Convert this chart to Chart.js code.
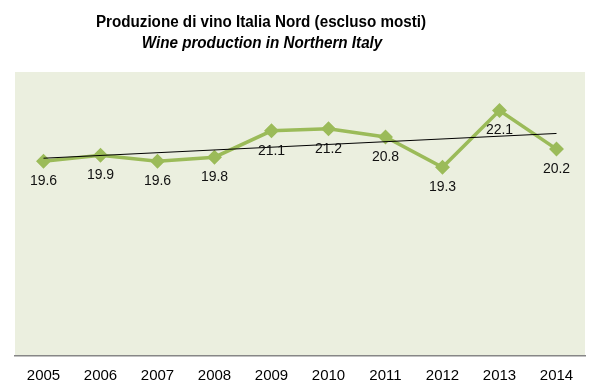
<!DOCTYPE html>
<html>
<head>
<meta charset="utf-8">
<script src="https://cdn.jsdelivr.net/npm/chart.js@4"></script>
<style>
  html,body{margin:0;padding:0;background:#fff;}
  #wrap{width:600px;height:391px;}
</style>
</head>
<body>
<div id="wrap"><canvas id="wineChart" width="600" height="391"></canvas></div>
<script>
// DATA
const years = ["2005","2006","2007","2008","2009","2010","2011","2012","2013","2014"];
const production = [19.6, 19.9, 19.6, 19.8, 21.1, 21.2, 20.8, 19.3, 22.1, 20.2];
// trend line ends
const trend = [19.75, null, null, null, null, null, null, null, null, 20.97];

const titleText = "Produzione di vino Italia Nord (escluso mosti)";
const subtitleText = "Wine production in Northern Italy";

// squeeze text a little, no narrow font installed
function narrowText(ctx, txt, x, y, sx){
  ctx.save();
  ctx.translate(x, y);
  ctx.scale(sx, 1);
  ctx.fillText(txt, 0, 0);
  ctx.restore();
}

// plot background + titles + value labels
const decor = {
  id: "decor",
  beforeDraw(chart){
    const {ctx, chartArea:a} = chart;
    ctx.save();
    ctx.fillStyle = "#EBEFDF";
    ctx.fillRect(a.left, a.top, a.right - a.left, a.bottom - a.top);
    ctx.fillStyle = "#000";
    ctx.textAlign = "center";
    ctx.textBaseline = "middle";
    ctx.font = "bold 16px 'Liberation Sans', Arial, sans-serif";
    narrowText(ctx, titleText, 261, 23, 0.95);
    ctx.font = "italic bold 16px 'Liberation Sans', Arial, sans-serif";
    narrowText(ctx, subtitleText, 262, 44, 0.95);
    ctx.restore();
  },
  afterDatasetsDraw(chart){
    const ctx = chart.ctx;
    const meta = chart.getDatasetMeta(1);
    ctx.save();
    ctx.fillStyle = "#111";
    ctx.font = "14px 'Liberation Sans', Arial, sans-serif";
    ctx.textAlign = "center";
    ctx.textBaseline = "middle";
    meta.data.forEach((pt, i) => {
      ctx.fillText(production[i].toFixed(1), pt.x, pt.y + 20);
    });
    ctx.restore();
  }
};

new Chart(document.getElementById("wineChart").getContext("2d"), {
  type: "line",
  data: {
    labels: years,
    datasets: [
      {label:"Trend", data: trend, spanGaps:true, borderColor:"#000", borderWidth:1,
       pointRadius:0, order:0},
      {label:"Nord", data: production, borderColor:"#9BBB59", backgroundColor:"#9BBB59",
       borderWidth:3.5, pointStyle:"rectRot", pointRadius:5, pointHoverRadius:5, order:1}
    ]
  },
  options: {
    responsive:false,
    animation:false,
    layout:{padding:{top:72, left:15, right:15, bottom:-4}},
    plugins:{legend:{display:false}, tooltip:{enabled:false}, title:{display:false}},
    scales:{
      x:{
        offset:true,
        grid:{display:false, drawTicks:false},
        border:{display:true, color:"#868686", width:1.5},
        ticks:{color:"#000", padding:12, font:{family:"'Liberation Sans', Arial, sans-serif", size:15, lineHeight:1}}
      },
      y:{display:false, min:10, max:24}
    }
  },
  plugins:[decor]
});
</script>
</body>
</html>
